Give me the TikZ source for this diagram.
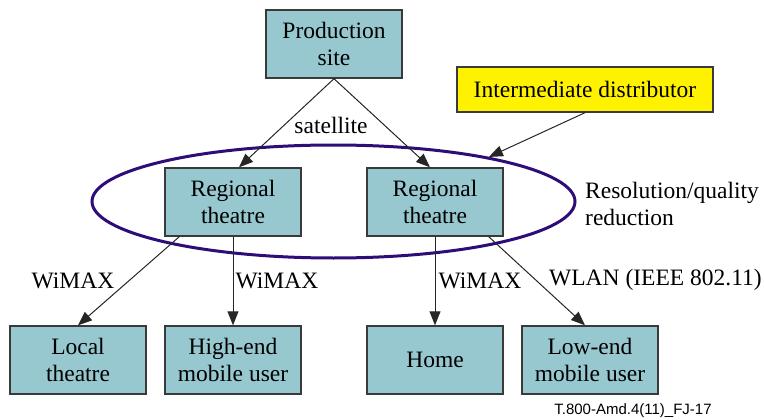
\documentclass[tikz,border=0pt]{standalone}
\usepackage{fontspec}
\setmainfont{Liberation Serif}
\newfontfamily\footfont{Liberation Sans}
\usetikzlibrary{arrows.meta,shapes.geometric}
\definecolor{boxfill}{HTML}{97C8D0}
\definecolor{boxline}{HTML}{3A3A3A}
\definecolor{ellcol}{HTML}{2E0D78}
\tikzset{
  bx/.style={draw=boxline, line width=1.4pt, fill=boxfill, minimum width=136pt, minimum height=68pt, inner sep=0pt, align=center, font=\fontsize{23.5}{27}\selectfont},
  lbl/.style={inner sep=0pt, font=\fontsize{23.5}{27}\selectfont},
  arr/.style={draw=black!85, line width=1pt, -{Triangle[length=14pt,width=11pt]}}
}
\begin{document}
\begin{tikzpicture}[x=1pt,y=-1pt]
\useasboundingbox (0,0) rectangle (764,420);
% ellipse
\node[ellipse, draw=ellcol, line width=3pt, minimum width=483pt, minimum height=113pt, inner sep=0pt] (ell) at (333.5,201.5) {};
% boxes
\node[bx] (prod) at (334,44) {Production\\site};
\node[bx, fill=yellow, minimum width=256pt, minimum height=45pt] (inter) at (585,89.5) {Intermediate distributor};
\node[bx] (rl) at (233,202) {Regional\\theatre};
\node[bx] (rr) at (435,202) {Regional\\theatre};
\node[bx] (local) at (78,360) {Local\\theatre};
\node[bx] (high) at (233,360) {High-end\\mobile user};
\node[bx] (home) at (435,360) {Home};
\node[bx] (low) at (590,360) {Low-end\\mobile user};
% connectors
\draw[arr] (prod.south) -- ([xshift=6pt]rl.north);
\draw[arr] (prod.south) -- ([xshift=-5pt]rr.north);
\draw[arr] (inter.south) -- (ell.16);
\draw[arr] ([xshift=15pt]rl.south west) -- (local.north);
\draw[arr] (rl.south) -- (high.north);
\draw[arr] (rr.south) -- (home.north);
\draw[arr] ([xshift=-15pt]rr.south east) -- ([xshift=-5pt]low.north);
% labels
\node[lbl] (sat) at (331,125) {satellite};
\node[lbl] (w1) at (73,281) {WiMAX};
\node[lbl] (w2) at (277,281) {WiMAX};
\node[lbl] (w3) at (480,281) {WiMAX};
\node[lbl, anchor=west] (wlan) at (549,280) {WLAN (IEEE 802.11)};
\node[lbl, anchor=west, align=left] (res) at (585,203.5) {Resolution/quality\\reduction};
\node[inner sep=0pt, font=\footfont\fontsize{15}{18}\selectfont] (foot) at (633,411) {T.800-Amd.4(11)\_FJ-17};
\end{tikzpicture}
\end{document}
